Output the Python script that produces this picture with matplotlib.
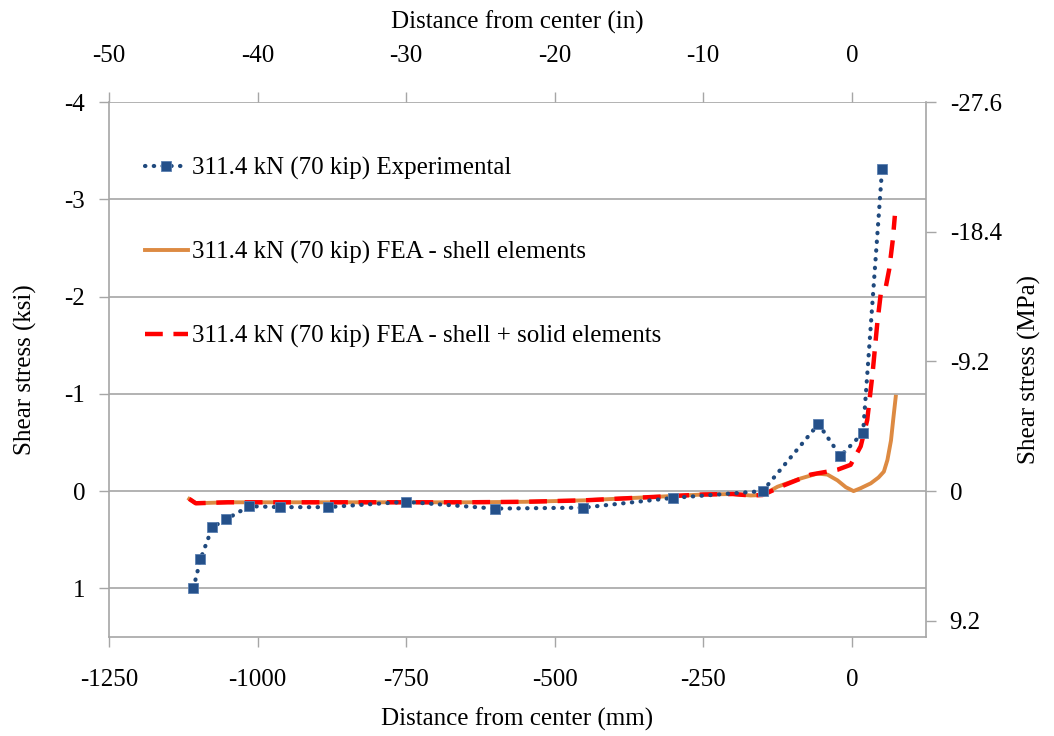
import matplotlib
matplotlib.use("Agg")
import matplotlib.pyplot as plt

plt.rcParams['font.family'] = ['Liberation Serif', 'DejaVu Serif']
plt.rcParams['font.size'] = 18
plt.rcParams['axes.unicode_minus'] = False

# experimental (mm, ksi)
exp_x = [-1108, -1096, -1076, -1053, -1014, -963, -882, -751, -600, -452, -301, -150, -56, -19, 19, 51]
exp_y = [1.0, 0.70, 0.37, 0.29, 0.155, 0.165, 0.165, 0.11, 0.18, 0.17, 0.07, 0.0, -0.69, -0.36, -0.60, -3.31]

# FEA shell elements
shell_x = [-1115, -1104, -1050, -950, -850, -750, -650, -550, -450, -350, -300, -250, -200, -170, -150,
           -125, -86, -58, -41, -24, -10, 3, 15, 32, 45, 54, 60, 66, 70, 74]
shell_y = [0.08, 0.125, 0.115, 0.115, 0.115, 0.115, 0.115, 0.11, 0.095, 0.065, 0.05, 0.035, 0.03, 0.045, 0.04,
           -0.045, -0.13, -0.18, -0.17, -0.11, -0.04, 0.0, -0.03, -0.08, -0.14, -0.2, -0.32, -0.52, -0.75, -0.97]

# FEA shell + solid elements
solid_x = [-1115, -1104, -1050, -950, -850, -750, -650, -550, -450, -350, -300, -250, -200, -170, -150,
           -114, -69, -41, -24, -2, 15, 26, 35, 43, 49, 57, 63, 69, 72.5]
solid_y = [0.08, 0.125, 0.115, 0.115, 0.115, 0.115, 0.115, 0.11, 0.095, 0.065, 0.05, 0.035, 0.03, 0.045, 0.04,
           -0.06, -0.17, -0.2, -0.22, -0.27, -0.46, -0.73, -1.21, -1.73, -2.04, -2.09, -2.28, -2.58, -2.83]

ksi_ticks = [-4, -3, -2, -1, 0, 1]
mpa_ticks = [-27.6, -18.4, -9.2, 0, 9.2]
mm_ticks = [-1250, -1000, -750, -500, -250, 0]
in_ticks = [-50, -40, -30, -20, -10, 0]
ksi_to_mpa = 6.9

grey = '#a6a6a6'

fig = plt.figure(figsize=(10.54, 7.36), dpi=100)
ax = fig.add_axes([0.1034, 0.1345, 0.7752, 0.7269])

ax.plot(exp_x, exp_y, linestyle=(0, (0.1, 2.0)), dash_capstyle='round', linewidth=3.0, color='#1f497d',
        marker='s', markersize=6.5, markerfacecolor='#24508a', markeredgecolor='#5a7fb0', markeredgewidth=0.6,
        label='311.4 kN (70 kip) Experimental', zorder=4)
ax.plot(shell_x, shell_y, color='#dd8a42', linewidth=2.8, label='311.4 kN (70 kip) FEA - shell elements', zorder=3)
ax.plot(solid_x, solid_y, color='#ff0000', linewidth=3.2, dashes=(4, 2.4),
        label='311.4 kN (70 kip) FEA - shell + solid elements', zorder=3)

ax.set_xlim(-1250, 125)
ax.set_ylim(1.5, -4)
ax.set_xticks(mm_ticks)
ax.set_yticks(ksi_ticks)
ax.yaxis.grid(True, color=grey, linewidth=1.2)
ax.set_axisbelow(True)
for s in ['left', 'bottom', 'right']:
    ax.spines[s].set_color(grey)
    ax.spines[s].set_linewidth(1.2)
ax.spines['top'].set_visible(False)
ax.tick_params(axis='x', direction='out', length=7, width=1, color=grey, pad=16)
ax.tick_params(axis='y', direction='out', length=7, width=1, color=grey, pad=10)
ax.set_xlabel('Distance from center (mm)', labelpad=12)
ax.set_ylabel('Shear stress (ksi)', labelpad=20)

axt = ax.twiny()
axt.set_xlim(-50, 5)
axt.set_xticks(in_ticks)
axt.tick_params(axis='x', direction='out', length=7, width=1, color=grey, pad=18)
for s in axt.spines.values():
    s.set_visible(False)
axt.set_xlabel('Distance from center (in)', labelpad=12)

axr = ax.twinx()
axr.set_ylim(1.5 * ksi_to_mpa, -4 * ksi_to_mpa)
axr.set_yticks(mpa_ticks)
axr.set_yticklabels(['-27.6', '-18.4', '-9.2', '0', '9.2'])
axr.tick_params(axis='y', direction='out', length=7, width=1, color=grey, pad=10)
for s in axr.spines.values():
    s.set_visible(False)
axr.set_ylabel('Shear stress (MPa)', labelpad=12)

h, l = ax.get_legend_handles_labels()
ax.legend(h, l, loc='upper left', bbox_to_anchor=(0.016, 0.94), frameon=False, handlelength=1.75,
          handletextpad=0.15, labelspacing=2.45, fontsize=18)

fig.savefig('out.png', dpi=100)
